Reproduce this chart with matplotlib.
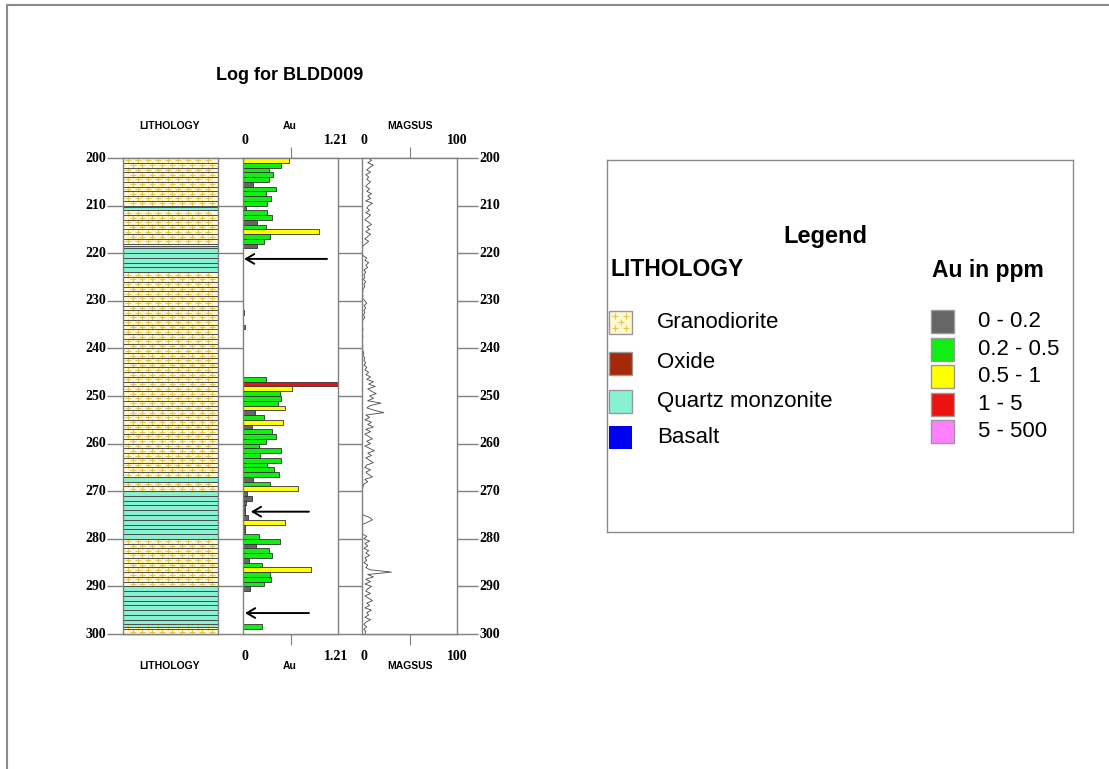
import matplotlib
matplotlib.use("Agg")
import matplotlib.pyplot as plt
from matplotlib.patches import Rectangle
from matplotlib.lines import Line2D
import numpy as np

plt.rcParams["font.family"] = ["Liberation Sans", "DejaVu Sans"]

W, H = 1109, 769

# ----------------------------------------------------------------------
# Hole data

hole_name = "BLDD009"
depth_top, depth_bot = 200, 300
depth_ticks = list(range(200, 301, 10))

# Lithology intervals (m)
lith_from = [200, 210.3, 211, 218.4, 224, 267, 268, 270, 280, 290, 298.5]
lith_to = [210.3, 211, 218.4, 224, 267, 268, 270, 280, 290, 298.5, 300]
lith_code = ["GD", "QM", "GD", "QM", "GD", "QM", "GD", "QM", "GD", "QM", "GD"]

# Au assays, 1 m samples (from depth, ppm)
au_from = [200, 201, 202, 203, 204, 205, 206, 207, 208, 209,
           210, 211, 212, 213, 214, 215, 216, 217, 218,
           225, 229, 232, 235, 238, 244,
           246, 247, 248, 249, 250, 251, 252, 253, 254, 255,
           256, 257, 258, 259, 260, 261, 262, 263, 264, 265,
           266, 267, 268, 269, 270, 271, 272, 273, 274, 275,
           276, 277, 278, 279, 280, 281, 282, 283, 284, 285,
           286, 287, 288, 289, 290, 298]
au_ppm = [0.58, 0.49, 0.33, 0.38, 0.33, 0.13, 0.42, 0.29, 0.36, 0.31,
          0.04, 0.30, 0.37, 0.18, 0.29, 0.97, 0.34, 0.27, 0.18,
          0.005, 0.005, 0.01, 0.02, 0.005, 0.005,
          0.29, 1.60, 0.62, 0.47, 0.48, 0.45, 0.53, 0.15, 0.27, 0.51,
          0.11, 0.37, 0.42, 0.29, 0.21, 0.49, 0.22, 0.49, 0.30, 0.40,
          0.46, 0.13, 0.34, 0.70, 0.05, 0.11, 0.04, 0.02, 0.02, 0.06,
          0.53, 0.03, 0.03, 0.21, 0.47, 0.16, 0.33, 0.37, 0.08, 0.24,
          0.86, 0.34, 0.36, 0.27, 0.09, 0.24]
au_max = 1.21

# Magnetic susceptibility, every 0.5 m from 200 m
magsus = [
    7, 10, 6, 12, 8, 5, 9, 4, 7, 5,
    9, 6, 4, 8, 5, 10, 6, 9, 4, 11,
    7, 5, 8, 4, 9, 6, 3, 7, 10, 5,
    8, 4, 9, 6, 3, 7, 4, 1, 0.5, 0.5,
    0.5, 1, 5, 3, 7, 4, 6, 2, 4, 2,
    3, 1.5, 4, 2, 3, 1, 1, 0.5, 1, 0.5,
    3, 5, 2, 4, 2, 3, 1.5, 3, 1, 0.5,
    0.5, 0.5, 1, 0.5, 0.5, 1, 0.5, 0.5, 0.5, 1,
    0.5, 1, 2, 1, 3, 2, 4, 2, 5, 3,
    7, 4, 9, 5, 12, 7, 14, 6, 10, 15,
    8, 12, 6, 20, 9, 5, 13, 23, 4, 8,
    3, 10, 6, 12, 4, 9, 3, 7, 11, 5,
    9, 3, 8, 13, 6, 10, 4, 8, 12, 5,
    3, 9, 4, 7, 11, 3, 6, 2, 1, 0.5,
    0.5, 0.5, 0.5, 0.5, 0.5, 0.5, 0.5, 0.5, 0.5, 0.5,
    1, 8, 11, 6, 0.5, 0.5, 0.5, 0.5, 0.5, 5,
    2, 8, 3, 6, 2, 7, 4, 8, 3, 5,
    2, 6, 4, 8, 31, 6, 12, 4, 9, 3,
    10, 6, 4, 9, 3, 7, 11, 5, 8, 3,
    10, 5, 7, 3, 9, 4, 2, 5, 2, 4,
    3,
]
magsus_depth = np.arange(200, 300.01, 0.5)
magsus_max = 100

# Intervals flagged with an arrow (depth, arrow tail in ppm, arrow tip in ppm)
flag_depth = [221.2, 274.3, 295.6]
flag_tail = [1.07, 0.84, 0.84]
flag_tip = [0.013, 0.10, 0.025]

# Legend entries
lith_names = ["Granodiorite", "Oxide", "Quartz monzonite", "Basalt"]
lith_keys = ["GD", "OX", "QM", "BA"]
lith_colors = {"GD": "#fff8d2", "OX": "#a3290a", "QM": "#86f2d2", "BA": "#0000f0"}
au_bins = [0, 0.2, 0.5, 1, 5, 500]
au_labels = ["0 - 0.2", "0.2 - 0.5", "0.5 - 1", "1 - 5", "5 - 500"]
au_colors = ["#666666", "#11ee11", "#ffff00", "#ee1111", "#ff80ff"]

CROSS = "#e4c64a"
GRID = "#808080"

# ----------------------------------------------------------------------

def px_axes(fig, x0, y0, x1, y1, **kwargs):
    return fig.add_axes([x0 / W, 1 - y1 / H, (x1 - x0) / W, (y1 - y0) / H], **kwargs)

def fig_text(fig, x, y, s, **kwargs):
    return fig.text(x / W, 1 - y / H, s, **kwargs)

def au_color(v):
    for lo, hi, c in zip(au_bins[:-1], au_bins[1:], au_colors):
        if lo <= v < hi:
            return c
    return au_colors[-1]

def panel_frame(ax):
    for sp in ax.spines.values():
        sp.set_color(GRID)
        sp.set_linewidth(1.0)

# ----------------------------------------------------------------------

fig = plt.figure(figsize=(W / 100, H / 100), dpi=100)

# Page border (left and top edges)
fig.add_artist(Line2D([7 / W, 7 / W, 1], [0, 1 - 5 / H, 1 - 5 / H],
                      transform=fig.transFigure, color="#8a8a8a", lw=1.5))

fig_text(fig, 290, 75, "Log for " + hole_name, fontsize=13, weight="bold",
         ha="center", va="center")

# Depth grid and labels behind the panels
bg = px_axes(fig, 0, 158, W, 634, zorder=0)
bg.set_xlim(0, W)
bg.set_ylim(depth_bot, depth_top)
bg.axis("off")
bg.hlines(depth_ticks, 107, 478, color=GRID, lw=1.0, clip_on=False)
for d in depth_ticks:
    bg.text(106, d, str(d), ha="right", va="center", fontsize=10, weight="bold",
            family="Liberation Serif", clip_on=False)
    bg.text(479, d, str(d), ha="left", va="center", fontsize=10, weight="bold",
            family="Liberation Serif", clip_on=False)

# Lithology column
ax_l = px_axes(fig, 123, 158, 218, 634, zorder=2)
ax_l.set_xlim(0, 1)
ax_l.set_ylim(depth_bot, depth_top)
for top, bot, code in zip(lith_from, lith_to, lith_code):
    ax_l.add_patch(Rectangle((0, top), 1, bot - top, facecolor=lith_colors[code],
                             edgecolor="none"))
    if code == "GD":
        for k, mid in enumerate(np.arange(np.floor(top) + 0.5, bot, 1.0)):
            if mid < top:
                continue
            xs = np.arange(0.05, 1, 0.105) + (0.05 if k % 2 else 0)
            xs = xs[xs < 0.97]
            ax_l.plot(xs, np.full(len(xs), mid), ls="none", marker="+", ms=4,
                      mew=0.8, color=CROSS)
ax_l.hlines(np.arange(depth_top + 1, depth_bot), 0, 1, color="#4a4a4a", lw=0.7)
ax_l.hlines(lith_from[1:], 0, 1, color="#4a4a4a", lw=0.7)
ax_l.set_xticks([])
ax_l.set_yticks([])
panel_frame(ax_l)

# Au panel
ax_a = px_axes(fig, 243, 158, 338, 634, zorder=2)
ax_a.barh([d + 0.5 for d in au_from], au_ppm, height=1.0, left=0,
          color=[au_color(v) for v in au_ppm], edgecolor="#333333", lw=0.6)
ax_a.set_xlim(0, au_max)
ax_a.set_ylim(depth_bot, depth_top)
ax_a.set_xticks([au_max / 2])
ax_a.set_yticks([])
ax_a.tick_params(axis="x", top=True, bottom=True, direction="out", length=8,
                 color=GRID, labelbottom=False, labeltop=False)
panel_frame(ax_a)
for d, tail, tip in zip(flag_depth, flag_tail, flag_tip):
    ax_a.annotate("", xy=(tip, d), xytext=(tail, d), annotation_clip=False,
                  arrowprops=dict(arrowstyle="->,head_length=0.6,head_width=0.35",
                                  color="black", lw=1.4, shrinkA=0, shrinkB=0))

# Magnetic susceptibility panel
ax_m = px_axes(fig, 362, 158, 457, 634, zorder=2)
ax_m.plot(magsus, magsus_depth, color="#4a4a4a", lw=0.6)
ax_m.set_xlim(0, magsus_max)
ax_m.set_ylim(depth_bot, depth_top)
ax_m.set_xticks([magsus_max / 2])
ax_m.set_yticks([])
ax_m.tick_params(axis="x", top=True, bottom=True, direction="out", length=8,
                 color=GRID, labelbottom=False, labeltop=False)
panel_frame(ax_m)

# Column headers and scale labels, top and bottom
serif = dict(family="Liberation Serif", weight="bold", fontsize=10, ha="center", va="center")
head = dict(weight="bold", fontsize=7.5, ha="center", va="center")
for ylab, yval in [(126, 141), (666, 657)]:
    fig_text(fig, 170, ylab, "LITHOLOGY", **head)
    fig_text(fig, 290, ylab, "Au", **head)
    fig_text(fig, 410, ylab, "MAGSUS", **head)
    fig_text(fig, 245, yval, "0", **serif)
    fig_text(fig, 336, yval, "%.2f" % au_max, **serif)
    fig_text(fig, 364, yval, "0", **serif)
    fig_text(fig, 457, yval, str(magsus_max), **serif)

# Legend box
lg = px_axes(fig, 607, 160, 1073, 532, zorder=2)
lg.set_xlim(607, 1073)
lg.set_ylim(532, 160)
lg.set_xticks([])
lg.set_yticks([])
for sp in lg.spines.values():
    sp.set_color("#8a8a8a")
    sp.set_linewidth(1.0)
lg.text(825, 236, "Legend", fontsize=17, weight="bold", ha="center", va="center")
lg.text(610, 269, "LITHOLOGY", fontsize=16.5, weight="bold", ha="left", va="center")
lg.text(932, 270, "Au in ppm", fontsize=16.5, weight="bold", ha="left", va="center")

for k, (name, key) in enumerate(zip(lith_names, lith_keys)):
    yc = [322, 363, 401.5, 437.5][k]
    lg.add_patch(Rectangle((609, yc - 11.5), 23, 23, facecolor=lith_colors[key],
                           edgecolor="#999999" if key != "BA" else "none", lw=1))
    if key == "GD":
        lg.plot([615, 626, 620.5, 615, 626], [yc - 6, yc - 6, yc, yc + 6, yc + 6],
                ls="none", marker="+", ms=4, mew=0.8, color=CROSS)
    lg.text(657, yc, name, fontsize=16, ha="left", va="center")

for k, (lab, col) in enumerate(zip(au_labels, au_colors)):
    yc = 321.5 + k * 27.6
    lg.add_patch(Rectangle((931, yc - 11.5), 23, 23, facecolor=col,
                           edgecolor="#999999", lw=1))
    lg.text(978, yc, lab, fontsize=16, ha="left", va="center")

fig.savefig("out.png", dpi=100)
